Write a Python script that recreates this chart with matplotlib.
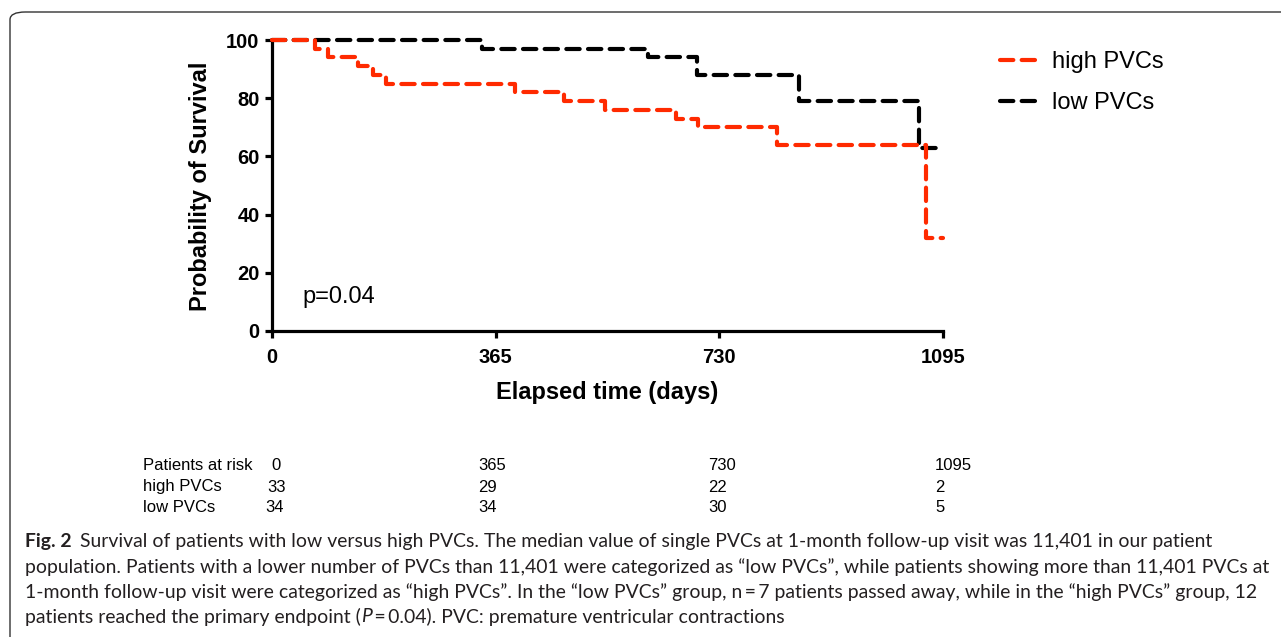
import matplotlib
matplotlib.use('Agg')
import matplotlib.pyplot as plt
from matplotlib.patches import FancyBboxPatch

# ---------------- data ----------------
high_days = [0, 70, 92, 141, 165, 186, 397, 476, 543, 660, 695, 824, 1068, 1095]
high_surv = [100, 97, 94, 91, 88, 85, 82, 79, 76, 73, 70, 64, 32, 32]
low_days = [0, 342, 614, 693, 860, 1056, 1093]
low_surv = [100, 97, 94, 88, 79, 63, 63]

x_ticks = [0, 365, 730, 1095]
y_ticks = [0, 20, 40, 60, 80, 100]

risk_header = ["0", "365", "730", "1095"]
risk_high = ["33", "29", "22", "2"]
risk_low = ["34", "34", "30", "5"]

caption_bold = "Fig. 2"
caption_lines = [
    "Survival of patients with low versus high PVCs. The median value of single PVCs at 1-month follow-up visit was 11,401 in our patient",
    "population. Patients with a lower number of PVCs than 11,401 were categorized as \u201clow PVCs\u201d, while patients showing more than 11,401 PVCs at",
    "1-month follow-up visit were categorized as \u201chigh PVCs\u201d. In the \u201clow PVCs\u201d group, n\u2009=\u20097 patients passed away, while in the \u201chigh PVCs\u201d group, 12",
    "patients reached the primary endpoint (",
]

RED = "#FF2A00"
W, H = 1281, 637


def fx(px):
    return px / W


def fy(py):
    return 1 - py / H


ARIAL = ["Liberation Sans", "DejaVu Sans"]
CAP = ["Lato", "DejaVu Sans"]

fig = plt.figure(figsize=(W / 100, H / 100), dpi=100)

# outer rounded frame
frame = FancyBboxPatch((fx(10), fy(700)), fx(1400), fy(12) - fy(700),
                       boxstyle="round,pad=0,rounding_size=0.012",
                       transform=fig.transFigure, fill=False,
                       edgecolor="#333333", linewidth=1.0)
fig.patches.append(frame)

ax = fig.add_axes([fx(272), fy(331), fx(943) - fx(272), fy(40) - fy(331)])

dash = (0, (3.2, 2.0))
l_low, = ax.step(low_days, low_surv, where="post", color="black", lw=3.0,
                 linestyle=dash, dash_capstyle="round", clip_on=False,
                 label="low PVCs", zorder=3)
l_high, = ax.step(high_days, high_surv, where="post", color=RED, lw=3.0,
                  linestyle=dash, dash_capstyle="round", clip_on=False,
                  label="high PVCs", zorder=4)

ax.set_xlim(0, 1095)
ax.set_ylim(0, 100)
ax.set_xticks(x_ticks)
ax.set_yticks(y_ticks)
for s in ["top", "right"]:
    ax.spines[s].set_visible(False)
for s in ["left", "bottom"]:
    ax.spines[s].set_linewidth(2.3)
ax.tick_params(axis="both", direction="out", length=5, width=2.3)
ax.tick_params(axis="y", pad=4)
ax.tick_params(axis="x", pad=7)
for lab in ax.get_xticklabels() + ax.get_yticklabels():
    lab.set_fontfamily(ARIAL)
    lab.set_fontweight("bold")
    lab.set_fontsize(14.5)

fig.text(fx(200), fy(186), "Probability of Survival", rotation=90,
         ha="center", va="center", fontsize=17, fontweight="bold", family=ARIAL)
fig.text(fx(607), fy(393), "Elapsed time (days)", ha="center", va="center",
         fontsize=17, fontweight="bold", family=ARIAL)
fig.text(fx(302), fy(297), "p=0.04", ha="left", va="center", fontsize=17,
         family=ARIAL)

leg = ax.legend(handles=[l_high, l_low], loc="upper left",
                bbox_to_anchor=(fx(1000), fy(51)), bbox_transform=fig.transFigure,
                frameon=False, borderpad=0, borderaxespad=0,
                handlelength=1.75, handletextpad=0.45, labelspacing=0.8,
                prop={"family": ARIAL, "size": 17})

# risk table
rows_y = [466, 487, 508]
fig.text(fx(143), fy(rows_y[0]), "Patients at risk", ha="left", va="center",
         fontsize=12, family=ARIAL)
fig.text(fx(143), fy(rows_y[1]), "high PVCs", ha="left", va="center",
         fontsize=12, family=ARIAL)
fig.text(fx(143), fy(rows_y[2]), "low PVCs", ha="left", va="center",
         fontsize=12, family=ARIAL)
col_x = [271, 478, 708, 935]
col_x_high = [267, 478, 708, 935]
col_x_low = [265, 478, 708, 935]
for i in range(4):
    fig.text(fx(col_x[i]), fy(rows_y[0]), risk_header[i], ha="left", va="center",
             fontsize=12, family=ARIAL)
    fig.text(fx(col_x_high[i]), fy(rows_y[1]), risk_high[i], ha="left", va="center",
             fontsize=12, family=ARIAL)
    fig.text(fx(col_x_low[i]), fy(rows_y[2]), risk_low[i], ha="left", va="center",
             fontsize=12, family=ARIAL)

# caption
fig.canvas.draw()
renderer = fig.canvas.get_renderer()
CAPCOL = "#231f20"
cap_y = [541, 567, 592, 617]
probe = fig.text(0, 0, caption_lines[1], fontsize=10, family=CAP)
wpx = probe.get_window_extent(renderer).width
probe.remove()
cap_size = 10 * (1242 / wpx)

tb = fig.text(fx(25), fy(cap_y[0]), caption_bold, ha="left", va="center",
              fontsize=cap_size, fontweight="bold", family=CAP, color=CAPCOL)
bw = tb.get_window_extent(renderer).width
fig.text(fx(25 + bw + 8), fy(cap_y[0]), caption_lines[0], ha="left", va="center",
         fontsize=cap_size, family=CAP, color=CAPCOL)
fig.text(fx(25), fy(cap_y[1]), caption_lines[1], ha="left", va="center",
         fontsize=cap_size, family=CAP, color=CAPCOL)
fig.text(fx(25), fy(cap_y[2]), caption_lines[2], ha="left", va="center",
         fontsize=cap_size, family=CAP, color=CAPCOL)
t4 = fig.text(fx(25), fy(cap_y[3]), caption_lines[3], ha="left", va="center",
              fontsize=cap_size, family=CAP, color=CAPCOL)
w4 = t4.get_window_extent(renderer).width
tp = fig.text(fx(25 + w4), fy(cap_y[3]), "P", ha="left", va="center",
              fontsize=cap_size, family=CAP, color=CAPCOL, style="italic")
wp = tp.get_window_extent(renderer).width
fig.text(fx(25 + w4 + wp), fy(cap_y[3]),
         "\u2009=\u20090.04). PVC: premature ventricular contractions",
         ha="left", va="center", fontsize=cap_size, family=CAP, color=CAPCOL)

fig.savefig("out.png", dpi=100)
